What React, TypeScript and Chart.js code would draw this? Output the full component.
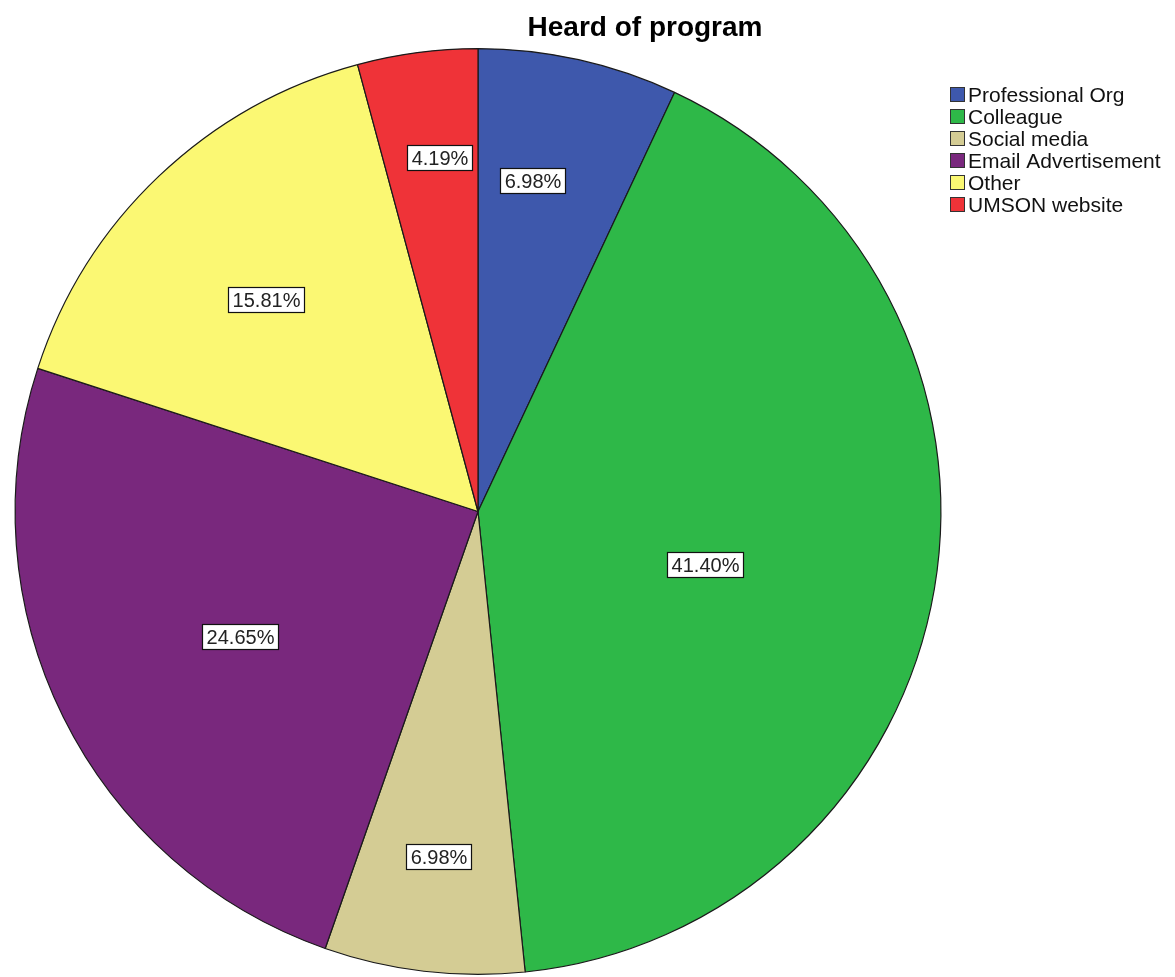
import React, { useEffect, useRef } from "react";
import { Chart, registerables } from "chart.js";

Chart.register(...registerables);

const categories = [
  "Professional Org",
  "Colleague",
  "Social media",
  "Email Advertisement",
  "Other",
  "UMSON website",
];
const percentages = [6.98, 41.4, 6.98, 24.65, 15.81, 4.19];
const colors = ["#3E58AC", "#2EB848", "#D4CC94", "#79287D", "#FBF873", "#EF3338"];
const titleText = "Heard of program";

// label placement inside each slice: fraction of radius, fraction along the slice angle
const labelRadius = [0.725, 0.504, 0.75, 0.58, 0.648, 0.77];
const labelAngle = [0.37, 0.523, 0.495, 0.485, 0.474, 0.59];

const FONT = '"Liberation Sans", Arial, Helvetica, sans-serif';

const decorPlugin = {
  id: "decor",
  afterDatasetsDraw(chart: any) {
    const ctx = chart.ctx;
    const meta = chart.getDatasetMeta(0);
    ctx.save();
    // slice labels
    ctx.font = `20px ${FONT}`;
    ctx.textAlign = "center";
    ctx.textBaseline = "middle";
    meta.data.forEach((arc: any, i: number) => {
      const p = arc.getProps(["x", "y", "startAngle", "endAngle", "outerRadius"], true);
      const a = p.startAngle + (p.endAngle - p.startAngle) * labelAngle[i];
      const r = p.outerRadius * labelRadius[i];
      const cx = p.x + Math.cos(a) * r;
      const cy = p.y + Math.sin(a) * r;
      const txt = percentages[i].toFixed(2) + "%";
      const tw = ctx.measureText(txt).width;
      const w = Math.round(tw + 8);
      const h = 25;
      const bx = Math.round(cx - w / 2) + 0.5;
      const by = Math.round(cy - h / 2) + 0.5;
      ctx.fillStyle = "#ffffff";
      ctx.fillRect(bx, by, w, h);
      ctx.strokeStyle = "#111111";
      ctx.lineWidth = 1.2;
      ctx.strokeRect(bx, by, w, h);
      ctx.fillStyle = "#222222";
      ctx.fillText(txt, bx + w / 2, by + h / 2 + 1);
    });
    ctx.restore();
  },
  afterDraw(chart: any) {
    const ctx = chart.ctx;
    ctx.save();
    // title
    ctx.font = `bold 28px ${FONT}`;
    ctx.fillStyle = "#000000";
    ctx.textAlign = "center";
    ctx.textBaseline = "middle";
    ctx.fillText(titleText, 645, 28);
    // legend
    ctx.font = `21px ${FONT}`;
    ctx.textAlign = "left";
    categories.forEach((c, i) => {
      const rowY = 95 + i * 22;
      ctx.fillStyle = colors[i];
      ctx.fillRect(950.5, rowY - 7.5, 14, 14);
      ctx.strokeStyle = "#333333";
      ctx.lineWidth = 1;
      ctx.strokeRect(950.5, rowY - 7.5, 14, 14);
      ctx.fillStyle = "#111111";
      ctx.fillText(c, 968, rowY + 1);
    });
    ctx.restore();
  },
};

export default function App() {
  const ref = useRef<HTMLCanvasElement | null>(null);
  useEffect(() => {
    if (!ref.current) return;
    const chart = new Chart(ref.current, {
      type: "pie",
      data: {
        labels: categories,
        datasets: [
          {
            data: percentages,
            backgroundColor: colors,
            borderColor: "#1a1a1a",
            borderWidth: 1.2,
            hoverOffset: 0,
          },
        ],
      },
      options: {
        responsive: false,
        animation: false,
        layout: { padding: { left: 14, top: 48, right: 233, bottom: 2 } },
        plugins: {
          legend: { display: false },
          title: { display: false },
          tooltip: { enabled: false },
        },
      },
      plugins: [decorPlugin],
    });
    return () => chart.destroy();
  }, []);
  return (
    <div style={{ position: "absolute", left: 0, top: 0, width: 1175, height: 977, background: "#fff" }}>
      <canvas ref={ref} width={1175} height={977} style={{ display: "block" }} />
    </div>
  );
}
